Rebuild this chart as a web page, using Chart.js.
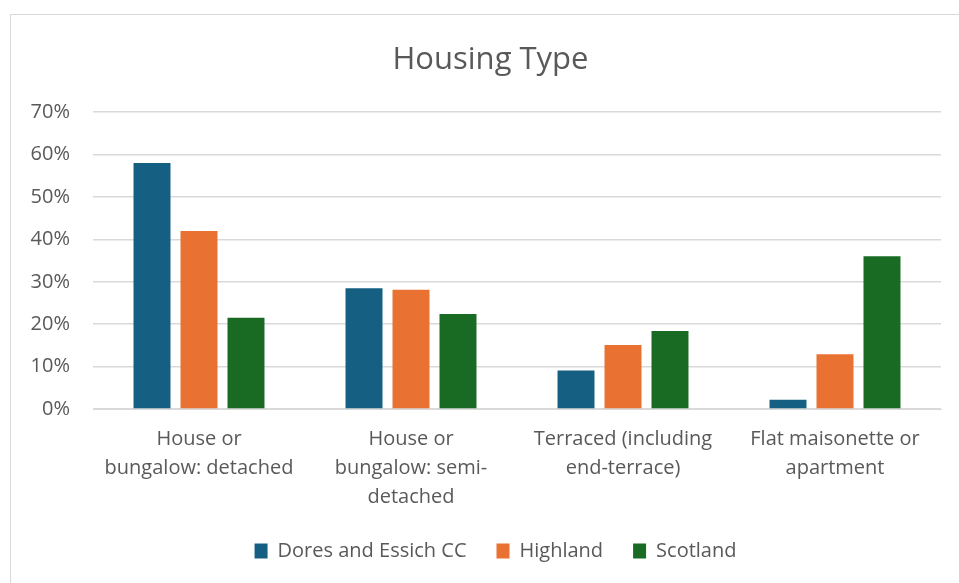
<!DOCTYPE html>
<html lang="en">
<head>
  <meta charset="UTF-8">
  <title>Housing Type</title>
  <script src="https://cdn.jsdelivr.net/npm/chart.js"></script>
  <style>
    body {
      margin: 0;
      background: #fff;
    }

    .frame {
      position: absolute;
      left: 10px;
      top: 14px;
      width: 1000px;
      height: 600px;
      border: 1px solid #d9d9d9;
    }

    #housingChart {
      position: absolute;
      left: 0;
      top: 0;
    }
  </style>
</head>
<body>
  <div class="frame"></div>
  <canvas id="housingChart" width="959" height="583"></canvas>

  <script>
    // Chart data
    const categories = [
      ['House or', 'bungalow: detached'],
      ['House or', 'bungalow: semi-', 'detached'],
      ['Terraced (including', 'end-terrace)'],
      ['Flat maisonette or', 'apartment']
    ];
    const doresEssich = [58.0, 28.5, 9.1, 2.2];
    const highland = [42.0, 28.1, 15.1, 12.9];
    const scotland = [21.5, 22.4, 18.4, 36.0];

    const textColor = '#595959';
    const fontFamily = '"Open Sans", sans-serif';

    // nudge title and legend to the right, the way Excel centres them
    const shiftBoxes = {
      id: 'shiftBoxes',
      afterLayout(chart) {
        chart.titleBlock.left += 10;
        chart.titleBlock.right += 10;
        chart.legend.left += 15;
        chart.legend.right += 15;
      }
    };

    const ctx = document.getElementById('housingChart').getContext('2d');
    const housingChart = new Chart(ctx, {
      type: 'bar',
      data: {
        labels: categories,
        datasets: [
          { label: 'Dores and Essich CC', data: doresEssich, backgroundColor: '#156082' },
          { label: 'Highland', data: highland, backgroundColor: '#E97132' },
          { label: 'Scotland', data: scotland, backgroundColor: '#196B24' }
        ]
      },
      plugins: [shiftBoxes],
      options: {
        responsive: false,
        animation: false,
        categoryPercentage: 0.665,
        barPercentage: 0.787,
        layout: {
          padding: { left: 20, right: 18, top: 0, bottom: 12 }
        },
        plugins: {
          title: {
            display: true,
            text: 'Housing Type',
            color: textColor,
            font: { family: fontFamily, size: 31, weight: 'normal' },
            padding: { top: 42, bottom: 33 }
          },
          legend: {
            position: 'bottom',
            labels: {
              color: textColor,
              font: { family: fontFamily, size: 20 },
              boxWidth: 13,
              boxHeight: 15,
              padding: 30
            }
          },
          tooltip: { enabled: false }
        },
        scales: {
          x: {
            grid: { display: false },
            border: { color: '#d9d9d9', width: 1 },
            ticks: {
              color: textColor,
              font: { family: fontFamily, size: 20, lineHeight: 1.45 },
              maxRotation: 0,
              autoSkip: false,
              padding: 8
            },
            afterFit: (scale) => { scale.height = 102; }
          },
          y: {
            min: 0,
            max: 70,
            grid: { color: '#d9d9d9', lineWidth: 1.5, drawTicks: false },
            border: { display: false },
            ticks: {
              stepSize: 10,
              color: textColor,
              font: { family: fontFamily, size: 20 },
              padding: 23,
              callback: (v) => v + '%'
            },
            afterFit: (scale) => { scale.width = 73; }
          }
        }
      }
    });
  </script>
</body>
</html>
